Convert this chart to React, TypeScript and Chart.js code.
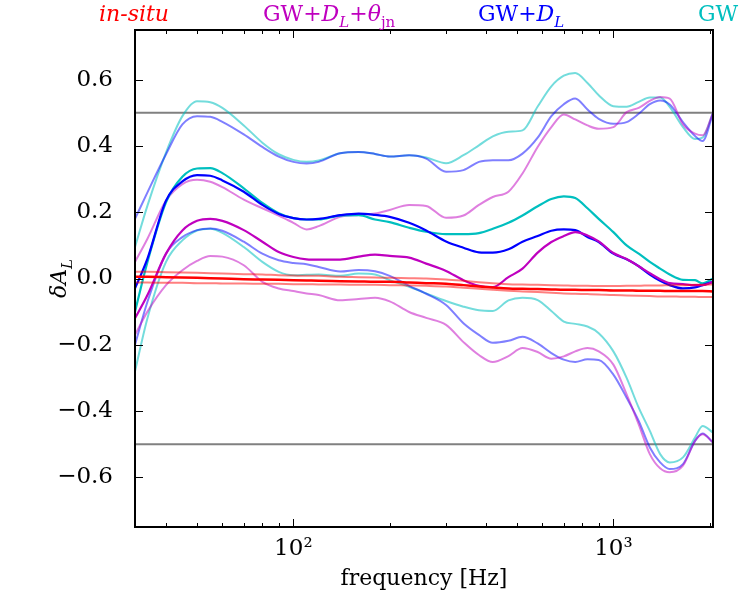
import React, { useEffect, useRef } from 'react';
import { Chart, registerables } from 'chart.js';

Chart.register(...registerables);

// frequency samples [Hz]
const freq = [32, 35, 40, 45, 50, 55, 60, 70, 80, 90, 100, 110, 120, 140, 160, 180, 200, 230, 260, 300, 340, 380, 420, 470, 520, 580, 640, 700, 760, 830, 900, 1000, 1100, 1200, 1300, 1400, 1500, 1650, 1800, 1900, 2048];

// in-situ (red)
const insituMed = [0.005, 0.005, 0.004, 0.003, 0.002, 0.001, 0.0, -0.002, -0.003, -0.004, -0.005, -0.006, -0.007, -0.008, -0.009, -0.01, -0.01, -0.012, -0.014, -0.016, -0.02, -0.024, -0.027, -0.03, -0.031, -0.032, -0.033, -0.034, -0.034, -0.035, -0.035, -0.036, -0.036, -0.037, -0.037, -0.037, -0.038, -0.038, -0.038, -0.038, -0.039];
const insituHi = [0.02, 0.02, 0.019, 0.018, 0.017, 0.016, 0.015, 0.013, 0.012, 0.01, 0.009, 0.008, 0.008, 0.005, 0.004, 0.003, 0.002, 0.001, 0.0, -0.003, -0.007, -0.011, -0.014, -0.017, -0.018, -0.019, -0.02, -0.021, -0.022, -0.022, -0.023, -0.023, -0.022, -0.022, -0.021, -0.021, -0.02, -0.02, -0.019, -0.019, -0.018];
const insituLo = [-0.012, -0.012, -0.013, -0.013, -0.014, -0.014, -0.015, -0.015, -0.016, -0.016, -0.017, -0.017, -0.018, -0.018, -0.019, -0.019, -0.02, -0.021, -0.022, -0.024, -0.028, -0.031, -0.034, -0.037, -0.039, -0.041, -0.043, -0.045, -0.046, -0.047, -0.048, -0.05, -0.051, -0.052, -0.053, -0.054, -0.054, -0.055, -0.055, -0.056, -0.056];

// GW + D_L + theta_jn (magenta)
const thMed = [-0.12, -0.05, 0.075, 0.145, 0.174, 0.18, 0.174, 0.146, 0.111, 0.08, 0.065, 0.058, 0.057, 0.057, 0.066, 0.072, 0.068, 0.063, 0.045, 0.023, -0.005, -0.022, -0.026, 0.004, 0.03, 0.078, 0.11, 0.128, 0.14, 0.13, 0.112, 0.077, 0.059, 0.037, 0.016, -0.002, -0.014, -0.017, -0.02, -0.02, -0.01];
const thHi = [0.05, 0.12, 0.235, 0.285, 0.298, 0.292, 0.276, 0.238, 0.212, 0.19, 0.168, 0.148, 0.158, 0.186, 0.192, 0.196, 0.207, 0.222, 0.219, 0.183, 0.19, 0.222, 0.246, 0.262, 0.317, 0.397, 0.457, 0.495, 0.48, 0.462, 0.452, 0.457, 0.502, 0.515, 0.536, 0.548, 0.543, 0.465, 0.437, 0.432, 0.5];
const thLo = [-0.17, -0.1, -0.02, 0.025, 0.053, 0.068, 0.066, 0.04, -0.01, -0.03, -0.038, -0.045, -0.05, -0.066, -0.062, -0.058, -0.069, -0.101, -0.119, -0.14, -0.192, -0.231, -0.252, -0.234, -0.21, -0.222, -0.242, -0.235, -0.22, -0.21, -0.22, -0.26, -0.35, -0.44, -0.53, -0.573, -0.585, -0.565, -0.49, -0.47, -0.495];

// GW + D_L (blue)
const dlMed = [-0.03, 0.06, 0.235, 0.293, 0.312, 0.31, 0.296, 0.262, 0.222, 0.195, 0.182, 0.178, 0.18, 0.191, 0.196, 0.192, 0.186, 0.168, 0.145, 0.112, 0.093, 0.079, 0.078, 0.088, 0.111, 0.128, 0.144, 0.148, 0.146, 0.125, 0.11, 0.075, 0.058, 0.037, 0.012, -0.007, -0.02, -0.03, -0.027, -0.02, -0.01];
const dlHi = [0.18, 0.26, 0.375, 0.465, 0.49, 0.488, 0.473, 0.435, 0.397, 0.368, 0.352, 0.347, 0.352, 0.378, 0.382, 0.376, 0.368, 0.372, 0.362, 0.322, 0.327, 0.352, 0.357, 0.357, 0.377, 0.425, 0.49, 0.526, 0.543, 0.51, 0.482, 0.467, 0.472, 0.497, 0.526, 0.537, 0.525, 0.472, 0.43, 0.415, 0.498];
const dlLo = [-0.2, -0.07, 0.075, 0.125, 0.146, 0.151, 0.144, 0.111, 0.075, 0.055, 0.047, 0.043, 0.035, 0.021, 0.026, 0.022, 0.008, -0.022, -0.046, -0.08, -0.135, -0.17, -0.194, -0.188, -0.176, -0.196, -0.225, -0.245, -0.252, -0.244, -0.246, -0.29, -0.36, -0.43, -0.51, -0.555, -0.575, -0.56, -0.49, -0.468, -0.495];

// GW only (cyan)
const gwMed = [-0.1, 0.05, 0.23, 0.307, 0.332, 0.333, 0.318, 0.272, 0.228, 0.197, 0.182, 0.178, 0.178, 0.19, 0.191, 0.178, 0.17, 0.153, 0.141, 0.134, 0.134, 0.137, 0.15, 0.168, 0.19, 0.218, 0.24, 0.248, 0.243, 0.212, 0.18, 0.14, 0.1, 0.075, 0.05, 0.03, 0.012, -0.004, -0.005, -0.015, 0.0];
const gwHi = [0.095, 0.22, 0.38, 0.49, 0.535, 0.532, 0.515, 0.462, 0.41, 0.375, 0.358, 0.352, 0.356, 0.378, 0.382, 0.376, 0.368, 0.372, 0.365, 0.348, 0.372, 0.402, 0.429, 0.443, 0.447, 0.519, 0.58, 0.612, 0.62, 0.59, 0.553, 0.52, 0.518, 0.533, 0.546, 0.546, 0.518, 0.457, 0.421, 0.425, 0.5];
const gwLo = [-0.28, -0.12, 0.05, 0.115, 0.145, 0.15, 0.138, 0.095, 0.05, 0.02, 0.01, 0.011, 0.012, 0.008, 0.015, 0.012, -0.005, -0.025, -0.045, -0.068, -0.085, -0.096, -0.098, -0.066, -0.058, -0.065, -0.098, -0.13, -0.137, -0.145, -0.165, -0.22, -0.3, -0.39, -0.46, -0.53, -0.555, -0.54, -0.48, -0.445, -0.465];

// reference levels and axes
const refLevels = [0.5, -0.5];
const xRange = [32, 2048];
const yRange = [-0.75, 0.75];
const yTicks = [-0.6, -0.4, -0.2, 0, 0.2, 0.4, 0.6];
const xMajorTicks = [100, 1000];
const xMinorTicks = [40, 50, 60, 70, 80, 90, 200, 300, 400, 500, 600, 700, 800, 900, 2000];
const xTickLabels = ['10²', '10³'];

const FONT = 'DejaVu Serif';

type Part = { t: string; i?: boolean; sub?: boolean };

const titles: { parts: Part[]; color: string; x: number }[] = [
  { parts: [{ t: 'in-situ', i: true }], color: '#ff0000', x: 99 },
  {
    parts: [{ t: 'GW+' }, { t: 'D', i: true }, { t: 'L', i: true, sub: true }, { t: '+' }, { t: 'θ', i: true }, { t: 'jn', sub: true }],
    color: '#bf00bf',
    x: 263,
  },
  { parts: [{ t: 'GW+' }, { t: 'D', i: true }, { t: 'L', i: true, sub: true }], color: '#0000ff', x: 478 },
  { parts: [{ t: 'GW' }], color: '#00bfbf', x: 698 },
];
const yTitle: Part[] = [{ t: 'δ', i: true }, { t: 'A', i: true }, { t: 'L', i: true, sub: true }];

function partFont(p: Part, size: number) {
  const s = p.sub ? Math.round(size * 0.7) : size;
  return `${p.i ? 'italic ' : ''}${s}px "${FONT}"`;
}
function richWidth(ctx: CanvasRenderingContext2D, parts: Part[], size: number) {
  let w = 0;
  for (const p of parts) {
    ctx.font = partFont(p, size);
    w += ctx.measureText(p.t).width;
  }
  return w;
}
function drawRich(ctx: CanvasRenderingContext2D, parts: Part[], x: number, y: number, size: number) {
  let cx = x;
  ctx.textAlign = 'left';
  ctx.textBaseline = 'alphabetic';
  for (const p of parts) {
    ctx.font = partFont(p, size);
    ctx.fillText(p.t, cx, p.sub ? y + size * 0.25 : y);
    cx += ctx.measureText(p.t).width;
  }
}

const decorPlugin = {
  id: 'decor',
  afterDatasetsDraw(chart: any) {
    const { ctx, chartArea: a, scales } = chart;
    const xs = scales.x;
    const ys = scales.y;
    ctx.save();
    ctx.strokeStyle = '#000';
    ctx.lineWidth = 1;
    const seg = (x1: number, y1: number, x2: number, y2: number) => {
      ctx.beginPath();
      ctx.moveTo(x1, y1);
      ctx.lineTo(x2, y2);
      ctx.stroke();
    };
    for (const v of yTicks) {
      const py = Math.round(ys.getPixelForValue(v)) + 0.5;
      seg(a.left, py, a.left + 8, py);
      seg(a.right - 8, py, a.right, py);
    }
    for (const v of xMajorTicks) {
      const px = Math.round(xs.getPixelForValue(v)) + 0.5;
      seg(px, a.bottom, px, a.bottom - 8);
      seg(px, a.top, px, a.top + 8);
    }
    for (const v of xMinorTicks) {
      const px = Math.round(xs.getPixelForValue(v)) + 0.5;
      seg(px, a.bottom, px, a.bottom - 4);
      seg(px, a.top, px, a.top + 4);
    }
    ctx.lineWidth = 2;
    ctx.strokeRect(a.left, a.top, a.right - a.left, a.bottom - a.top);
    ctx.restore();
  },
  afterDraw(chart: any) {
    const { ctx, chartArea: a } = chart;
    ctx.save();
    for (const t of titles) {
      ctx.fillStyle = t.color;
      drawRich(ctx, t.parts, t.x, 21, 22);
    }
    ctx.fillStyle = '#000';
    const w = richWidth(ctx, yTitle, 22);
    ctx.translate(66, (a.top + a.bottom) / 2);
    ctx.rotate(-Math.PI / 2);
    drawRich(ctx, yTitle, -w / 2, 0, 22);
    ctx.restore();
  },
};

function series(vals: number[]) {
  return vals.map((v, i) => ({ x: freq[i], y: v }));
}

function line(vals: number[], color: string, width: number) {
  return {
    data: series(vals),
    borderColor: color,
    borderWidth: width,
    pointRadius: 0,
    fill: false,
    cubicInterpolationMode: 'monotone' as const,
  };
}

export default function App() {
  const ref = useRef<HTMLCanvasElement | null>(null);
  useEffect(() => {
    if (!ref.current) return;
    const lightC = 'rgba(0,191,191,0.55)';
    const lightB = 'rgba(0,0,255,0.5)';
    const lightM = 'rgba(191,0,191,0.5)';
    const lightR = 'rgba(255,0,0,0.5)';
    const datasets: any[] = [
      line(insituMed, '#ff0000', 2.5),
      line(insituHi, lightR, 2),
      line(insituLo, lightR, 2),
      line(thMed, '#bf00bf', 2.2),
      line(dlMed, '#0000ff', 2.2),
      line(gwMed, '#00bfbf', 2.2),
      line(thHi, lightM, 2),
      line(thLo, lightM, 2),
      line(dlHi, lightB, 2),
      line(dlLo, lightB, 2),
      line(gwHi, lightC, 2),
      line(gwLo, lightC, 2),
      ...refLevels.map((lv) => ({
        data: xRange.map((f) => ({ x: f, y: lv })),
        borderColor: '#808080',
        borderWidth: 2,
        pointRadius: 0,
        fill: false,
      })),
    ];
    const chart = new Chart(ref.current, {
      type: 'line',
      data: { datasets },
      options: {
        animation: false,
        responsive: false,
        devicePixelRatio: 1,
        layout: { padding: { top: 30, right: 37, left: 0, bottom: 0 } },
        plugins: { legend: { display: false }, tooltip: { enabled: false } },
        scales: {
          x: {
            type: 'logarithmic',
            min: xRange[0],
            max: xRange[1],
            grid: { display: false, drawTicks: false },
            border: { display: false },
            afterBuildTicks: (s: any) => {
              s.ticks = xMajorTicks.map((v) => ({ value: v }));
            },
            afterFit: (s: any) => {
              s.height = 73;
              s.paddingLeft = 0;
              s.paddingRight = 0;
              s.paddingTop = 0;
              s.paddingBottom = 0;
            },
            ticks: {
              autoSkip: false,
              maxRotation: 0,
              color: '#000',
              padding: 8,
              font: { family: FONT, size: 23 },
              callback: (v: any) => xTickLabels[xMajorTicks.indexOf(Number(v))] ?? '',
            },
            title: {
              display: true,
              text: 'frequency [Hz]',
              color: '#000',
              font: { family: FONT, size: 22 },
              padding: { top: 0, bottom: 8 },
            },
          },
          y: {
            type: 'linear',
            min: yRange[0],
            max: yRange[1],
            grid: { display: false, drawTicks: false },
            border: { display: false },
            afterBuildTicks: (s: any) => {
              s.ticks = yTicks.map((v) => ({ value: v }));
            },
            afterFit: (s: any) => {
              s.width = 135;
              s.paddingTop = 0;
              s.paddingBottom = 0;
              s.paddingLeft = 0;
              s.paddingRight = 0;
            },
            ticks: {
              color: '#000',
              padding: 22,
              font: { family: FONT, size: 23 },
              callback: (v: any) => {
                const n = Number(v);
                return (n < -1e-9 ? '−' : '') + Math.abs(n).toFixed(1);
              },
            },
          },
        },
      },
      plugins: [decorPlugin],
    } as any);
    return () => chart.destroy();
  }, []);
  return (
    <div style={{ position: 'absolute', left: 0, top: 0, width: 750, height: 600, background: '#fff' }}>
      <canvas ref={ref} width={750} height={600} style={{ display: 'block', width: 750, height: 600 }} />
    </div>
  );
}
